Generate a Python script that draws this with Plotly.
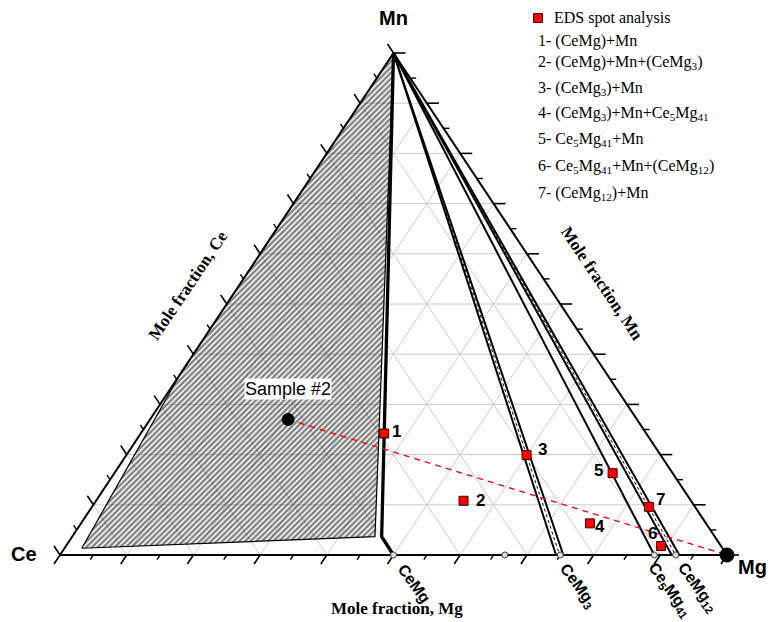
import plotly.graph_objects as go

# ---------------------------------------------------------------- data
corner_names = ["Ce", "Mg", "Mn"]

# EDS spot analyses, mole fractions
eds_ids = ["1", "2", "3", "4", "5", "6", "7"]
eds_ce = [0.393, 0.341, 0.201, 0.174, 0.090, 0.091, 0.069]
eds_mg = [0.365, 0.551, 0.600, 0.763, 0.747, 0.892, 0.835]
eds_mn = [0.242, 0.108, 0.199, 0.063, 0.163, 0.018, 0.096]
eds_phases = [
    "(CeMg)+Mn",
    "(CeMg)+Mn+(CeMg<sub>3</sub>)",
    "(CeMg<sub>3</sub>)+Mn",
    "(CeMg<sub>3</sub>)+Mn+Ce<sub>5</sub>Mg<sub>41</sub>",
    "Ce<sub>5</sub>Mg<sub>41</sub>+Mn",
    "Ce<sub>5</sub>Mg<sub>41</sub>+Mn+(CeMg<sub>12</sub>)",
    "(CeMg<sub>12</sub>)+Mn",
]

# nominal alloy composition
sample_name = "Sample #2"
sample_ce = 0.523
sample_mg = 0.207
sample_mn = 0.270

# binary Ce-Mg compounds (Mg mole fraction on the Ce-Mg side)
compound_names = ["CeMg", "CeMg2", "CeMg3", "Ce5Mg41", "CeMg12"]
compound_mg = [0.500, 0.667, 0.750, 0.891, 0.923]
compound_labels = ["CeMg", "", "CeMg<sub>3</sub>",
                   "Ce<sub>5</sub>Mg<sub>41</sub>", "CeMg<sub>12</sub>"]

# Mn - compound boundaries (Mg fraction where they reach the Ce-Mg side)
cemg_path_mg = [0.000, 0.464, 0.500]
cemg_path_mn = [1.000, 0.0365, 0.000]
cemg3_band_mg = [0.7436, 0.7546]
ce5mg41_mg = 0.891
cemg12_band_mg = [0.9171, 0.9285]

# hatched region (Mg, Mn)
hatch_mg = [0.000, 0.454, 0.026, 0.000]
hatch_mn = [1.000, 0.0365, 0.0134, 0.360]

tick_major = [0.0, 0.1, 0.2, 0.3, 0.4, 0.5, 0.6, 0.7, 0.8, 0.9, 1.0]
tick_minor = [0.05, 0.15, 0.25, 0.35, 0.45, 0.55, 0.65, 0.75, 0.85, 0.95]
grid_vals = [0.1, 0.2, 0.3, 0.4, 0.5, 0.6, 0.7, 0.8, 0.9]


# ---------------------------------------------------------------- helpers
def tx(mg, mn):
    """ternary (Mg, Mn) -> plane x"""
    return mg + mn / 2.0


def ty(mg, mn):
    return mn


def seg_trace(segs, color, width, dash="solid"):
    xs, ys = [], []
    for (m1, n1), (m2, n2) in segs:
        xs += [tx(m1, n1), tx(m2, n2), None]
        ys += [ty(m1, n1), ty(m2, n2), None]
    return go.Scatter(x=xs, y=ys, mode="lines", hoverinfo="skip",
                      line=dict(color=color, width=width, dash=dash))


fig = go.Figure()

# grid lines of constant Mn, Mg and Ce
grid = []
for t in grid_vals:
    grid.append(((0.0, t), (1.0 - t, t)))          # Mn = t
    grid.append(((t, 0.0), (t, 1.0 - t)))          # Mg = t
    grid.append(((1.0 - t, 0.0), (0.0, 1.0 - t)))  # Ce = t
fig.add_trace(seg_trace(grid, "#cccccc", 1))

# hatched field
fig.add_trace(go.Scatter(
    x=[tx(a, b) for a, b in zip(hatch_mg, hatch_mn)] + [tx(hatch_mg[0], hatch_mn[0])],
    y=[ty(a, b) for a, b in zip(hatch_mg, hatch_mn)] + [ty(hatch_mg[0], hatch_mn[0])],
    mode="lines", fill="toself", fillcolor="rgba(0,0,0,0)",
    fillpattern=dict(shape="/", fgcolor="black", bgcolor="rgba(0,0,0,0)",
                     size=4, solidity=0.6),
    line=dict(color="black", width=1.2), hoverinfo="skip"))


# two-line bands with a dotted centre line
def band(mg_pair):
    lo, hi = mg_pair
    fig.add_trace(go.Scatter(
        x=[tx(0, 1), tx(lo, 0), tx(hi, 0), tx(0, 1)],
        y=[ty(0, 1), ty(lo, 0), ty(hi, 0), ty(0, 1)],
        mode="lines", fill="toself", fillcolor="white",
        line=dict(width=0), hoverinfo="skip"))
    fig.add_trace(seg_trace([((0, 1), (lo, 0)), ((0, 1), (hi, 0))], "black", 2))
    mid = (lo + hi) / 2.0
    fig.add_trace(seg_trace([((0, 1), (mid, 0))], "black", 1, "dot"))


band(cemg3_band_mg)
band(cemg12_band_mg)
fig.add_trace(seg_trace([((0, 1), (ce5mg41_mg, 0))], "black", 2))
fig.add_trace(go.Scatter(
    x=[tx(a, b) for a, b in zip(cemg_path_mg, cemg_path_mn)],
    y=[ty(a, b) for a, b in zip(cemg_path_mg, cemg_path_mn)],
    mode="lines", line=dict(color="black", width=3.3), hoverinfo="skip"))

# triangle frame
frame = [((0, 0), (1, 0)), ((1, 0), (0, 1)), ((0, 1), (0, 0))]
fig.add_trace(seg_trace(frame, "black", 2))


# ticks (pointing outward along the iso-composition directions)
def ticks(vals, length):
    segs = []
    for t in vals:
        segs.append(((t, 0.0), (t, -length)))                       # Mg axis
        segs.append(((1.0 - t, t), (1.0 - t + length, t)))         # Mn axis
        segs.append(((0.0, 1.0 - t), (-length, 1.0 - t + length)))  # Ce axis
    return segs


fig.add_trace(seg_trace(ticks(tick_major, 0.018), "black", 1.6))
fig.add_trace(seg_trace(ticks(tick_minor, 0.009), "black", 1.4))

# compound positions on the Ce-Mg side
fig.add_trace(go.Scatter(
    x=[tx(m, 0) for m in compound_mg], y=[0 for _ in compound_mg],
    mode="markers", hoverinfo="skip",
    marker=dict(symbol="circle", size=6, color="#dddddd",
                line=dict(color="#444444", width=1))))

# tie line from the alloy composition to the Mg corner
fig.add_trace(go.Scatter(
    x=[tx(sample_mg, sample_mn), tx(1, 0)],
    y=[ty(sample_mg, sample_mn), ty(1, 0)],
    mode="lines", line=dict(color="red", width=1.4, dash="6px,5px"),
    hoverinfo="skip"))

# alloy and Mg corner markers
fig.add_trace(go.Scatter(
    x=[tx(sample_mg, sample_mn), tx(1, 0)],
    y=[ty(sample_mg, sample_mn), ty(1, 0)],
    mode="markers", opacity=1,
    marker=dict(color="#000000", size=[12, 14], opacity=1,
                line=dict(color="#000000", width=1)),
    hoverinfo="skip"))

# EDS spots
fig.add_trace(go.Scatter(
    x=[tx(a, b) for a, b in zip(eds_mg, eds_mn)],
    y=[ty(a, b) for a, b in zip(eds_mg, eds_mn)],
    mode="markers", hoverinfo="skip",
    marker=dict(symbol="square", size=9, color="#ff0000",
                line=dict(color="#3a0000", width=1))))

# ---------------------------------------------------------------- text
ann = []
sans_b = dict(family="Liberation Sans, Arial", size=20, color="black")
ann.append(dict(x=tx(0, 0), y=0, text="<b>Ce</b>", showarrow=False,
                xshift=-36, yshift=1, font=sans_b))
ann.append(dict(x=tx(1, 0), y=0, text="<b>Mg</b>", showarrow=False,
                xshift=25, yshift=-12, font=sans_b))
ann.append(dict(x=tx(0, 1), y=1, text="<b>Mn</b>", showarrow=False,
                xshift=0, yshift=35, font=sans_b))

label_shift = {"CeMg": (21, -28), "CeMg3": (18, -31),
               "Ce5Mg41": (16, -35), "CeMg12": (22, -32)}
for name, m, lab in zip(compound_names, compound_mg, compound_labels):
    if not lab:
        continue
    dx, dy = label_shift[name]
    ann.append(dict(x=tx(m, 0), y=0, text="<b>" + lab + "</b>", showarrow=False,
                    textangle=54, xshift=dx, yshift=dy,
                    font=dict(family="Liberation Sans, Arial", size=16, color="black")))

num_shift = {"1": (12, 2), "2": (17, 0), "3": (16, 6), "4": (10, -3),
             "5": (-14, 3), "6": (-8, 12), "7": (12, 7)}
for i, m, n in zip(eds_ids, eds_mg, eds_mn):
    dx, dy = num_shift[i]
    ann.append(dict(x=tx(m, n), y=ty(m, n), text="<b>" + i + "</b>", showarrow=False,
                    xshift=dx, yshift=dy,
                    font=dict(family="Liberation Sans, Arial", size=17, color="black")))

ann.append(dict(x=tx(sample_mg, sample_mn), y=ty(sample_mg, sample_mn),
                text=sample_name, showarrow=False, yshift=30, bgcolor="white",
                borderpad=0,
                font=dict(family="Liberation Sans, Arial", size=18, color="black")))

serif_b = dict(family="Liberation Serif, Times New Roman", size=17, color="black")
ann.append(dict(x=tx(0.5, 0), y=0, text="<b>Mole fraction, Mg</b>", showarrow=False,
                xshift=3, yshift=-53, font=serif_b))
ann.append(dict(x=tx(0, 0.5), y=0.5, text="<b>Mole fraction, Ce</b>", showarrow=False,
                textangle=-56, xshift=-39, yshift=19, font=serif_b))
ann.append(dict(x=tx(0.5, 0.5), y=0.5, text="<b>Mole fraction, Mn</b>", showarrow=False,
                textangle=56, xshift=42, yshift=21, font=serif_b))

# legend block
serif = dict(family="Liberation Serif, Times New Roman", size=16, color="black")
leg_y = [41, 62, 88, 114, 139, 166, 193]
ann.append(dict(x=552 / 770, y=1 - 18 / 622, xref="paper", yref="paper",
                text="EDS spot analysis", showarrow=False, xanchor="left",
                yanchor="middle", font=serif))
for i, ph, yy in zip(eds_ids, eds_phases, leg_y):
    ann.append(dict(x=536 / 770, y=1 - yy / 622, xref="paper", yref="paper",
                    text=i + "- " + ph, showarrow=False, xanchor="left",
                    yanchor="middle", font=serif))

fig.add_trace(go.Scatter(
    x=[538 / 770], y=[1 - 18 / 622], xaxis="x2", yaxis="y2", mode="markers",
    marker=dict(symbol="square", size=9, color="#ff0000",
                line=dict(color="#3a0000", width=1)),
    hoverinfo="skip"))

fig.update_layout(
    width=770, height=622, margin=dict(l=0, r=0, t=0, b=0),
    paper_bgcolor="white", plot_bgcolor="white", showlegend=False,
    xaxis=dict(range=[-60 / 667, 710 / 667], visible=False, fixedrange=True),
    yaxis=dict(range=[-67 / 502, 555 / 502], visible=False, fixedrange=True),
    xaxis2=dict(range=[0, 1], visible=False, overlaying="x"),
    yaxis2=dict(range=[0, 1], visible=False, overlaying="y"),
    annotations=ann,
)

fig.write_html("out.html")
